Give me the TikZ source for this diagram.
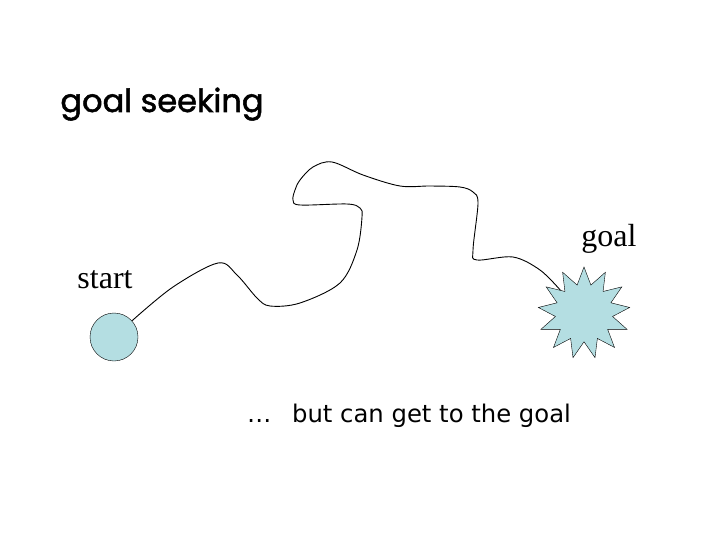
\documentclass[tikz,border=0pt]{standalone}
\usepackage{fontspec}
\setmainfont{Liberation Serif}
\newfontfamily\comicfont[FakeBold=1.6]{Poppins}
\newfontfamily\notefont{DejaVu Sans}
\usetikzlibrary{shapes.geometric}
\definecolor{blobfill}{RGB}{180,222,226}

\begin{document}
\begin{tikzpicture}[x=1pt,y=-1pt,
    blob/.style={draw,fill=blobfill,inner sep=0pt}]
    \useasboundingbox (0,0) rectangle (720,540);
    \node[anchor=base] (title) at (162,112) {\comicfont\fontsize{32}{38}\selectfont goal seeking};
    \node[blob,circle,minimum size=48pt] (startdot) at (114,337) {};
    \node[blob,star,star points=13,star point ratio=1.6,minimum size=92pt] (goaldot) at (584,313) {};
    \node[anchor=base] (startlbl) at (105,288) {\fontsize{32}{38}\selectfont start};
    \node[anchor=base] (goallbl) at (609,247) {\fontsize{32}{38}\selectfont goal};
    \node[anchor=base west,inner sep=0pt] (note) at (247,422) {\notefont\fontsize{24.3}{29}\selectfont …\hspace{0.85em}but can get to the goal};
    % 道のり
    \draw[line width=0.9pt] plot[smooth,tension=0.55] coordinates {(startdot.42) (173,287) (218,263) (237,275)
        (257,298) (270,306) (300,303) (340,283) (357,250) (362,217) (360,208) (347,204) (300,205)
        (293,200) (295,190) (300,180) (313,167) (332,162) (363,175) (400,186) (430,186) (460,187)
        (473,192) (478,203) (473,250) (477,260) (513,257) (540,270) (goaldot.136)};
\end{tikzpicture}
\end{document}
